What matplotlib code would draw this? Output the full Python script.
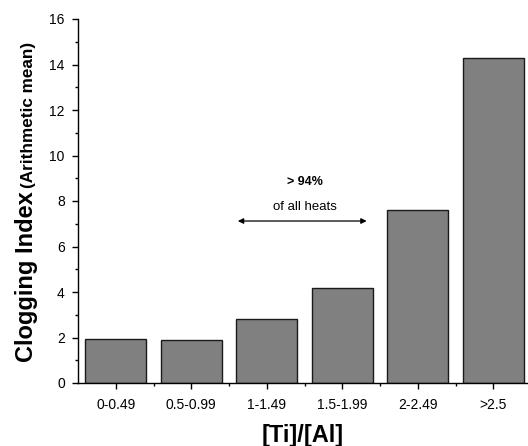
import matplotlib
matplotlib.use("Agg")
import matplotlib.pyplot as plt
import numpy as np

plt.rcParams["font.family"] = ["Liberation Sans", "DejaVu Sans"]

categories = ["0-0.49", "0.5-0.99", "1-1.49", "1.5-1.99", "2-2.49", ">2.5"]
clogging_index = [1.92, 1.88, 2.80, 4.16, 7.60, 14.30]

W, H = 528, 446
fig = plt.figure(figsize=(W / 100, H / 100), dpi=100)
ax = fig.add_axes([78 / W, 1 - 383 / H, (W - 78) / W, (383 - 19) / H])

x = np.arange(len(categories))
ax.bar(x, clogging_index, width=0.81, color="#808080", edgecolor="#1a1a1a", linewidth=1.0)

ax.set_xlim(-0.5, 5.46)
ax.set_ylim(0, 16)
ax.set_xticks(x)
ax.set_xticklabels(categories, fontsize=10)
ax.set_xticks(x[:-1] + 0.5, minor=True)
ax.set_yticks(np.arange(0, 17, 2))
ax.set_yticks(np.arange(1, 16, 2), minor=True)
ax.tick_params(axis="y", labelsize=10, pad=5)
ax.tick_params(axis="x", pad=6)
ax.tick_params(which="major", direction="out", length=4.5, width=1)
ax.tick_params(which="minor", direction="out", length=2.5, width=1)
for side in ("top", "right"):
    ax.spines[side].set_visible(False)
for side in ("left", "bottom"):
    ax.spines[side].set_linewidth(1.0)

ax.set_xlabel("[Ti]/[Al]", fontsize=17, fontweight="bold", labelpad=9)

# y label in two sizes
t1 = fig.text(33 / W, 1 - 362 / H, "Clogging Index", rotation=90, rotation_mode="anchor",
              ha="left", va="baseline", fontsize=17, fontweight="bold")
fig.canvas.draw()
bb = t1.get_window_extent()
fig.text(33 / W, (bb.y1 + 3) / H, "(Arithmetic mean)", rotation=90, rotation_mode="anchor",
         ha="left", va="baseline", fontsize=12.3, fontweight="bold")

# annotation
ax.annotate("", xy=(1.58, 7.12), xytext=(3.36, 7.12),
            arrowprops=dict(arrowstyle="<|-|>", color="black", lw=0.9, mutation_scale=8))
ax.text(2.50, 8.84, "> 94%", ha="center", va="center", fontsize=9, fontweight="bold")
ax.text(2.50, 7.72, "of all heats", ha="center", va="center", fontsize=9.5)

fig.savefig("out.png", dpi=100)
